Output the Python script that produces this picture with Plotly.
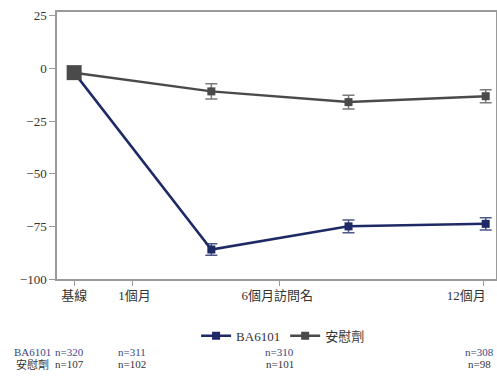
import plotly.graph_objects as go

# Visit months and mean change from baseline
months = [0, 4, 8, 12]
ba_mean = [-2.0, -86.0, -75.0, -73.8]
ba_err = [0.0, 2.7, 3.0, 2.9]
pbo_mean = [-2.0, -10.9, -16.0, -13.2]
pbo_err = [0.0, 3.6, 3.3, 3.1]

# Axis ticks: tick marks and the label positions beneath them
tick_marks = [0, 1.7, 6, 11.94]
label_pos = [0, 1.76, 5.92, 11.43]
tick_text = ["基線", "1個月", "6個月訪問名", "12個月"]
y_ticks = [25, 0, -25, -50, -75, -100]

# Number of patients per visit
n_pos = [-0.13, 1.69, 5.99, 11.81]
ba_n = ["n=320", "n=311", "n=310", "n=308"]
pbo_n = ["n=107", "n=102", "n=101", "n=98"]

NAVY = "#1e2a66"
NAVY_ERR = "#4b5888"
GRAY = "#4a4a4a"
GRAY_ERR = "#7a7a7a"
AXIS = "#9a9a9a"
FONT = '"Liberation Serif", "Noto Sans CJK TC", serif'

fig = go.Figure()

fig.add_trace(go.Scatter(
    x=months, y=ba_mean, name="BA6101", mode="lines+markers",
    line=dict(color=NAVY, width=2.5),
    marker=dict(symbol="square", size=8, color=NAVY),
    error_y=dict(type="data", array=ba_err, color=NAVY_ERR, thickness=1.5, width=6),
))
fig.add_trace(go.Scatter(
    x=months, y=pbo_mean, name="安慰劑", mode="lines+markers",
    line=dict(color=GRAY, width=2.5),
    marker=dict(symbol="square", size=8, color=GRAY),
    error_y=dict(type="data", array=pbo_err, color=GRAY_ERR, thickness=1.5, width=6),
))
# Shared baseline point
fig.add_trace(go.Scatter(
    x=months[:1], y=pbo_mean[:1], mode="markers", showlegend=False,
    marker=dict(symbol="square", size=15, color=GRAY),
))

annotations = []
for label, color, yy in [("BA6101", "#3a4785", -0.272), ("安慰劑", "#333333", -0.319)]:
    annotations.append(dict(
        x=-0.056, y=yy, xref="paper", yref="paper", text=label, showarrow=False,
        xanchor="center", yanchor="middle", font=dict(size=11, color=color, family=FONT),
    ))
for xp, a, b in zip(n_pos, ba_n, pbo_n):
    annotations.append(dict(
        x=xp, y=-0.272, xref="x", yref="paper", text=a, showarrow=False,
        xanchor="center", yanchor="middle", font=dict(size=11, color="#3a4785", family=FONT),
    ))
    annotations.append(dict(
        x=xp, y=-0.319, xref="x", yref="paper", text=b, showarrow=False,
        xanchor="center", yanchor="middle", font=dict(size=11, color="#333333", family=FONT),
    ))

fig.update_layout(
    width=497, height=380,
    margin=dict(l=57, r=1, t=12, b=101, autoexpand=False),
    paper_bgcolor="white", plot_bgcolor="white",
    font=dict(family=FONT, size=13, color="#333333"),
    showlegend=True,
    legend=dict(orientation="h", x=0.515, y=-0.213, xanchor="center", yanchor="middle",
                font=dict(size=13, color="#333333", family=FONT), itemwidth=30),
    annotations=annotations,
    xaxis=dict(
        range=[-0.5, 12.3], tickvals=label_pos, ticktext=tick_text,
        ticks="", ticklabelstandoff=4, automargin=False,
        minor=dict(tickvals=tick_marks, ticks="outside", ticklen=5, tickcolor=AXIS,
                   tickwidth=1, showgrid=False),
        showgrid=False, zeroline=False, showline=True, linecolor=AXIS, linewidth=1.5,
        mirror=True,
        tickfont=dict(family=FONT, size=13, color="#333333"),
    ),
    yaxis=dict(
        range=[-100, 26.8], tickvals=y_ticks, automargin=False,
        showgrid=False, zeroline=False, showline=True, linecolor=AXIS, linewidth=1.5,
        mirror=True, ticks="outside", ticklen=6, tickcolor=AXIS,
        tickfont=dict(family=FONT, size=13, color="#333333"),
    ),
)

fig.write_html("out.html")
